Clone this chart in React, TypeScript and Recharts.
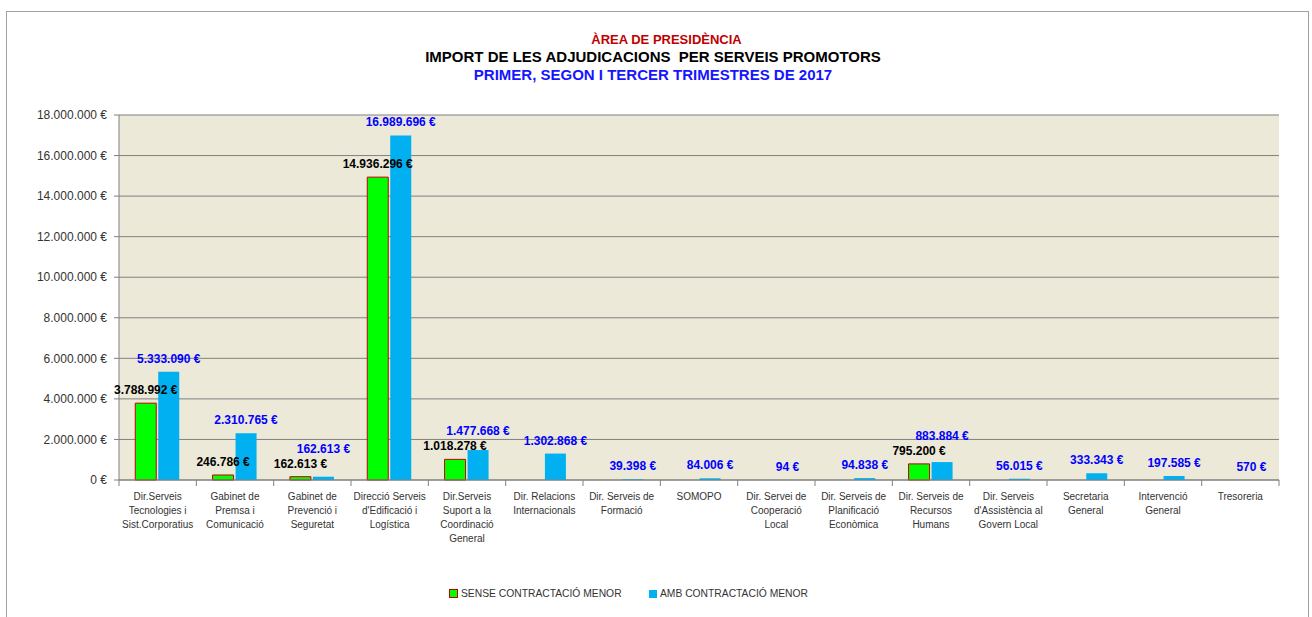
import React from 'react';
import { BarChart, Bar, XAxis, YAxis, CartesianGrid, LabelList } from 'recharts';

const categories = [
  'Dir.Serveis\nTecnologies i\nSist.Corporatius',
  'Gabinet de\nPremsa i\nComunicació',
  'Gabinet de\nPrevenció i\nSeguretat',
  'Direcció Serveis\nd\'Edificació i\nLogística',
  'Dir.Serveis\nSuport a la\nCoordinació\nGeneral',
  'Dir. Relacions\nInternacionals',
  'Dir. Serveis de\nFormació',
  'SOMOPO',
  'Dir. Servei de\nCooperació\nLocal',
  'Dir. Serveis de\nPlanificació\nEconòmica',
  'Dir. Serveis de\nRecursos\nHumans',
  'Dir. Serveis\nd\'Assistència al\nGovern Local',
  'Secretaria\nGeneral',
  'Intervenció\nGeneral',
  'Tresoreria',
];

const senseValues: (number | null)[] = [
  3788992, 246786, 162613, 14936296, 1018278, null, null, null, null, null, 795200, null, null, null, null,
];

const ambValues: (number | null)[] = [
  5333090, 2310765, 162613, 16989696, 1477668, 1302868, 39398, 84006, 94, 94838, 883884, 56015, 333343, 197585, 570,
];

const yTicks = [0, 2000000, 4000000, 6000000, 8000000, 10000000, 12000000, 14000000, 16000000, 18000000];

const titleLines = ['ÀREA DE PRESIDÈNCIA', 'IMPORT DE LES ADJUDICACIONS  PER SERVEIS PROMOTORS', 'PRIMER, SEGON I TERCER TRIMESTRES DE 2017'];
const seriesNames = ['SENSE CONTRACTACIÓ MENOR', 'AMB CONTRACTACIÓ MENOR'];

const data = categories.map((c, i) => ({ name: c, sense: senseValues[i], amb: ambValues[i] }));

const FONT = '"Liberation Sans", Arial, sans-serif';
const GREEN = '#00FF00';
const BLUE = '#00B0F0';
const GREEN_STROKE = '#C00000';
const LABEL_GAP = 9;
const LABEL_LINE = 15;

const fmt = (v: number) => String(Math.round(v)).replace(/\B(?=(\d{3})+(?!\d))/g, '.') + ' €';

const GreenLabel = (props: any) => {
  const { x, y, width, value } = props;
  if (value == null || value === 0) return null;
  return (
    <text x={Number(x) + Number(width) / 2} y={Number(y) - LABEL_GAP} textAnchor="middle" fill="#000"
      fontSize={12} fontWeight="bold" fontFamily={FONT}>
      {fmt(Number(value))}
    </text>
  );
};

const BlueLabel = (props: any) => {
  const { x, y, width, height, value } = props;
  if (value == null || value === 0) return null;
  const v = Number(value);
  let ly = Number(y) - LABEL_GAP;
  // avoid colliding with the green label of the same category
  const idx = ambValues.indexOf(v);
  const g = idx >= 0 ? senseValues[idx] : null;
  if (g != null && g > 0 && Number(height) > 0) {
    const base = Number(y) + Number(height);
    const pxPerUnit = Number(height) / v;
    const greenLabelY = base - g * pxPerUnit - LABEL_GAP;
    if (Math.abs(greenLabelY - ly) < LABEL_LINE) ly = Math.min(ly, greenLabelY - LABEL_LINE);
  }
  return (
    <text x={Number(x) + Number(width) / 2} y={ly} textAnchor="middle" fill="#0000FF"
      fontSize={12} fontWeight="bold" fontFamily={FONT}>
      {fmt(v)}
    </text>
  );
};

const PLOT_W = 1160;
const BAND = PLOT_W / categories.length;

const XTick = (props: any) => {
  const { x, y, payload, index } = props;
  const lines = String(payload.value).split('\n');
  const left = x - BAND / 2;
  const isLast = index === categories.length - 1;
  return (
    <g>
      <line x1={left} y1={y - 8} x2={left} y2={y - 2} stroke="#808080" />
      {isLast && <line x1={x + BAND / 2} y1={y - 8} x2={x + BAND / 2} y2={y - 2} stroke="#808080" />}
      <text x={x} y={y + 12} textAnchor="middle" fill="#333" fontSize={10} fontFamily={FONT}>
        {lines.map((l, i) => (
          <tspan key={i} x={x} dy={i === 0 ? 0 : 14}>
            {l}
          </tspan>
        ))}
      </text>
    </g>
  );
};

export default function App() {
  return (
    <div
      style={{
        position: 'absolute',
        left: 0,
        top: 0,
        width: 1312,
        height: 617,
        overflow: 'hidden',
        background: '#fff',
        fontFamily: FONT,
      }}
    >
      <div
        style={{
          position: 'absolute',
          left: 6,
          top: 11,
          width: 1301,
          height: 640,
          border: '1px solid #A0A0A0',
        }}
      />
      <div style={{ position: 'absolute', left: 0, top: 31, width: 1312, textAlign: 'center', fontWeight: 'bold' }}>
        <div style={{ color: '#C00000', paddingLeft: 21, fontSize: 13, lineHeight: '17px' }}>{titleLines[0]}</div>
        <div style={{ color: '#000', paddingRight: 6, whiteSpace: 'pre', fontSize: 15, lineHeight: '18px' }}>{titleLines[1]}</div>
        <div style={{ color: '#1515FF', paddingRight: 6, fontSize: 15, lineHeight: '18px' }}>{titleLines[2]}</div>
      </div>
      <div style={{ position: 'absolute', left: 0, top: 0 }}>
        <BarChart
          width={1312}
          height={617}
          data={data}
          margin={{ top: 115, right: 33, left: 19, bottom: 17 }}
          barCategoryGap="21%"
          barGap={2}
        >
          <CartesianGrid vertical={false} horizontal={true} stroke="#808080" fill="#ECE9D8" />
          <XAxis
            dataKey="name"
            height={120}
            interval={0}
            tickLine={false}
            axisLine={{ stroke: '#808080' }}
            tick={<XTick />}
          />
          <YAxis
            width={100}
            domain={[0, 18000000]}
            ticks={yTicks}
            interval={0}
            tickSize={5}
            tickMargin={7}
            tickLine={{ stroke: '#808080' }}
            axisLine={{ stroke: '#808080' }}
            tick={{ fill: '#333', fontSize: 12, fontFamily: FONT }}
            tickFormatter={(v: number) => fmt(v)}
          />
          <Bar dataKey="sense" name={seriesNames[0]} fill={GREEN} stroke={GREEN_STROKE} strokeWidth={1} isAnimationActive={false}>
            <LabelList dataKey="sense" content={GreenLabel} />
          </Bar>
          <Bar dataKey="amb" name={seriesNames[1]} fill={BLUE} isAnimationActive={false}>
            <LabelList dataKey="amb" content={BlueLabel} />
          </Bar>
        </BarChart>
      </div>
      <div style={{ position: 'absolute', left: 449, top: 588, display: 'flex', alignItems: 'center', fontSize: 10.3, color: '#333' }}>
        <span style={{ display: 'inline-block', width: 7, height: 7, background: GREEN, border: `1px solid ${GREEN_STROKE}`, marginRight: 3 }} />
        <span>{seriesNames[0]}</span>
      </div>
      <div style={{ position: 'absolute', left: 649, top: 588, display: 'flex', alignItems: 'center', fontSize: 10.3, color: '#333' }}>
        <span style={{ display: 'inline-block', width: 8, height: 8, background: BLUE, marginRight: 3 }} />
        <span>{seriesNames[1]}</span>
      </div>
    </div>
  );
}
